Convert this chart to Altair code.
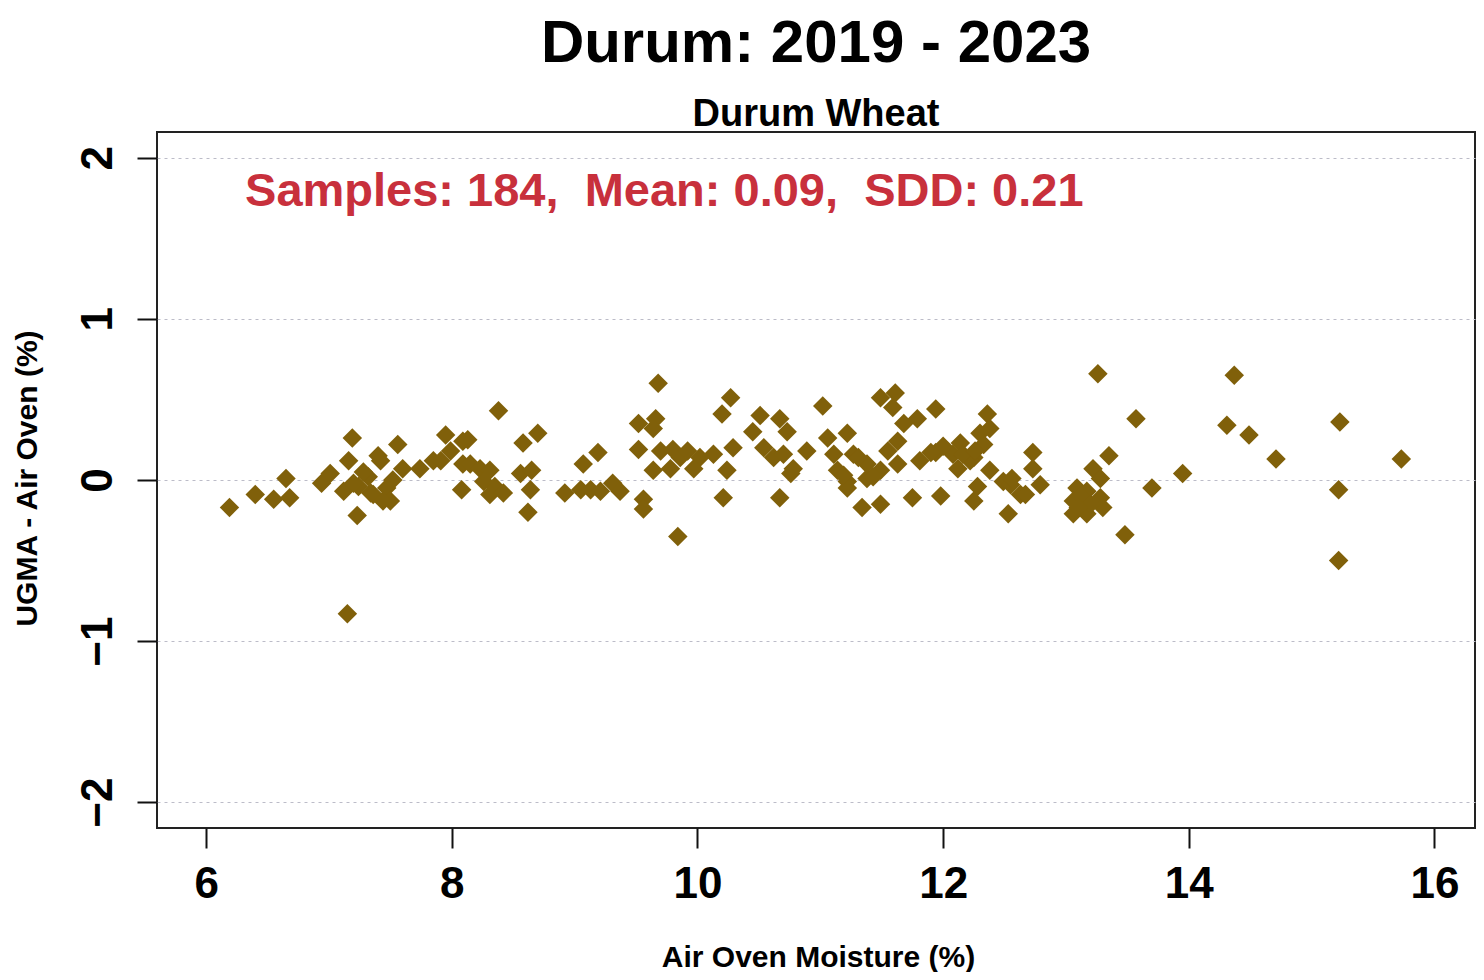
import altair as alt
import pandas as pd

# Air oven moisture (%) values
moisture = [
    6.19, 6.40, 6.55, 6.65, 6.68, 6.94, 7.01, 7.12, 7.16, 7.19,
    7.23, 7.15, 7.24, 7.32, 7.34, 7.40, 7.36, 7.47, 7.50, 7.44,
    7.56, 7.60, 7.74, 7.85, 7.95, 7.99, 7.91, 8.08, 8.09, 8.09,
    8.13, 7.28, 7.42, 7.20, 7.52,
    8.38, 8.15, 8.23, 8.31, 8.26, 8.35, 8.31, 8.42, 8.58, 8.70,
    8.56, 8.65, 8.64, 8.62, 8.92, 9.07, 9.19, 9.05, 9.13, 9.21,
    9.31, 9.37, 9.52, 9.52, 9.68, 9.66, 9.64, 9.56, 9.56, 9.70,
    9.80, 9.86, 9.64, 9.78, 9.84,
    9.92, 10.02, 9.97, 10.13, 10.27, 10.20, 10.29, 10.24, 10.21, 10.51,
    10.45, 10.67, 10.73, 10.54, 10.62, 10.70, 10.78, 10.76, 10.89, 10.67,
    11.02, 11.06, 11.22, 11.11, 11.27, 11.14, 11.38, 11.22, 11.22, 11.38,
    11.49, 11.49, 11.55, 11.34, 11.49, 11.19, 11.31, 11.43,
    11.61, 11.59, 11.94, 11.79, 11.68, 11.63, 11.63, 11.81, 11.94, 12.14,
    12.08, 12.25, 12.12, 12.36, 12.38, 12.30, 12.33, 12.38, 12.28, 12.25,
    12.49, 12.55, 12.63, 12.73, 12.73, 12.79, 11.75, 11.98, 12.53, 12.22,
    12.00, 11.90, 12.16, 12.26, 12.56, 12.67,
    13.09, 13.06, 13.06, 13.17, 13.17, 13.22, 13.28, 13.28, 13.30, 13.26,
    13.57, 13.35, 13.48, 13.70, 13.95, 14.37, 14.31, 14.49, 14.71, 15.23,
    15.22, 15.22, 15.73, 13.12, 13.20, 13.10,
]

# UGMA - Air Oven difference (%) values
difference = [
    -0.17, -0.09, -0.12, 0.01, -0.11, -0.02, 0.04, -0.07, 0.12, 0.26,
    -0.22, -0.83, -0.04, 0.02, -0.08, 0.15, -0.09, -0.05, -0.13, -0.13,
    0.22, 0.07, 0.07, 0.12, 0.28, 0.18, 0.12, -0.06, 0.24, 0.10,
    0.25, 0.05, 0.12, -0.02, 0.00,
    0.43, 0.10, 0.07, 0.06, -0.01, -0.04, -0.09, -0.08, 0.23, 0.29,
    0.04, 0.06, -0.06, -0.20, -0.08, 0.10, 0.17, -0.06, -0.06, -0.07,
    -0.02, -0.07, 0.19, 0.35, 0.60, 0.38, 0.32, -0.12, -0.18, 0.18,
    0.19, 0.14, 0.06, 0.07, -0.35,
    0.18, 0.14, 0.07, 0.16, 0.51, 0.41, 0.20, 0.06, -0.11, 0.40,
    0.30, 0.38, 0.30, 0.20, 0.14, 0.16, 0.07, 0.04, 0.18, -0.11,
    0.46, 0.26, 0.29, 0.16, 0.16, 0.06, 0.10, -0.01, -0.05, 0.01,
    0.06, 0.51, 0.18, -0.17, -0.15, 0.03, 0.14, 0.02,
    0.54, 0.45, 0.44, 0.38, 0.35, 0.24, 0.10, 0.12, 0.17, 0.23,
    0.16, 0.14, 0.07, 0.41, 0.32, 0.29, 0.22, 0.06, -0.04, -0.13,
    -0.01, -0.03, -0.09, 0.17, 0.07, -0.03, -0.11, -0.10, -0.21, 0.12,
    0.21, 0.17, 0.16, 0.18, 0.01, -0.09,
    -0.05, -0.13, -0.21, -0.07, -0.21, 0.07, 0.01, -0.11, -0.17, 0.66,
    0.38, 0.15, -0.34, -0.05, 0.04, 0.65, 0.34, 0.28, 0.13, 0.36,
    -0.06, -0.50, 0.13, -0.10, -0.15, -0.17,
]

x_ticks = [6, 8, 10, 12, 14, 16]
y_ticks = [-2, -1, 0, 1, 2]

NB = "\u00a0"
annotation_text = [f"Samples: 184,{NB} Mean: 0.09,{NB} SDD: 0.21"]
annotation_x = [9.73]
annotation_y = [1.79]

FONT = "Liberation Sans"

df = pd.DataFrame({"moisture": moisture, "difference": difference})
ann = pd.DataFrame({"label": annotation_text, "ax": annotation_x, "ay": annotation_y})

x_scale = alt.Scale(domain=[5.6, 16.33], nice=False, zero=False)
y_scale = alt.Scale(domain=[-2.16, 2.16], nice=False, zero=False)

x_axis = alt.Axis(
    values=x_ticks, format="d", title="Air Oven Moisture (%)", grid=False, domain=False,
    labelFont=FONT, labelFontWeight="bold", labelFontSize=44, labelColor="black",
    labelBaseline="alphabetic", labelPadding=49, labelAlign="center",
    tickSize=20, tickWidth=2, tickColor="#111",
    titleFont=FONT, titleFontWeight="bold", titleFontSize=30, titleColor="black",
    titleBaseline="alphabetic", titleY=138, titleX=661, titleAlign="center",
    labelFlush=False, labelOverlap=False,
)
y_axis = alt.Axis(
    values=y_ticks, format="d", title="UGMA - Air Oven (%)", grid=True, domain=False,
    gridColor="#bcbcc8", gridDash=[3, 4], gridWidth=1,
    labelFont=FONT, labelFontWeight="bold", labelFontSize=44, labelColor="black",
    labelAngle=270, labelAlign="center", labelBaseline="alphabetic", labelPadding=26,
    tickSize=20, tickWidth=2, tickColor="#111",
    titleFont=FONT, titleFontWeight="bold", titleFontSize=30, titleColor="black",
    titleAngle=270, titleBaseline="middle", titleAlign="center", titleX=-130, titleY=346,
    labelFlush=False, labelOverlap=False,
)

points = alt.Chart(df).mark_point(
    shape="diamond", filled=True, size=380, color="#80600a", opacity=1
).encode(
    x=alt.X("moisture:Q", scale=x_scale, axis=x_axis),
    y=alt.Y("difference:Q", scale=y_scale, axis=y_axis),
)

text = alt.Chart(ann).mark_text(
    font=FONT, fontWeight="bold", fontSize=47, color="#c8303c",
    align="center", baseline="middle"
).encode(
    x=alt.X("ax:Q", scale=x_scale),
    y=alt.Y("ay:Q", scale=y_scale),
    text="label:N",
)

chart = alt.layer(points, text).properties(
    width=1318, height=696,
    autosize=alt.AutoSizeParams(type="none"),
    padding={"left": 149, "top": 124, "right": 1, "bottom": 144},
    background="white",
    title=alt.TitleParams(
        text="Durum: 2019 - 2023", subtitle="Durum Wheat",
        font=FONT, fontSize=60, fontWeight="bold", color="black",
        subtitleFont=FONT, subtitleFontSize=38, subtitleFontWeight="bold",
        subtitleColor="black", anchor="middle", frame="group",
        offset=-3, subtitlePadding=21,
    ),
).configure_view(stroke="#222", strokeWidth=2)

chart.save("out.html", embed_options={"renderer": "svg", "actions": False})
